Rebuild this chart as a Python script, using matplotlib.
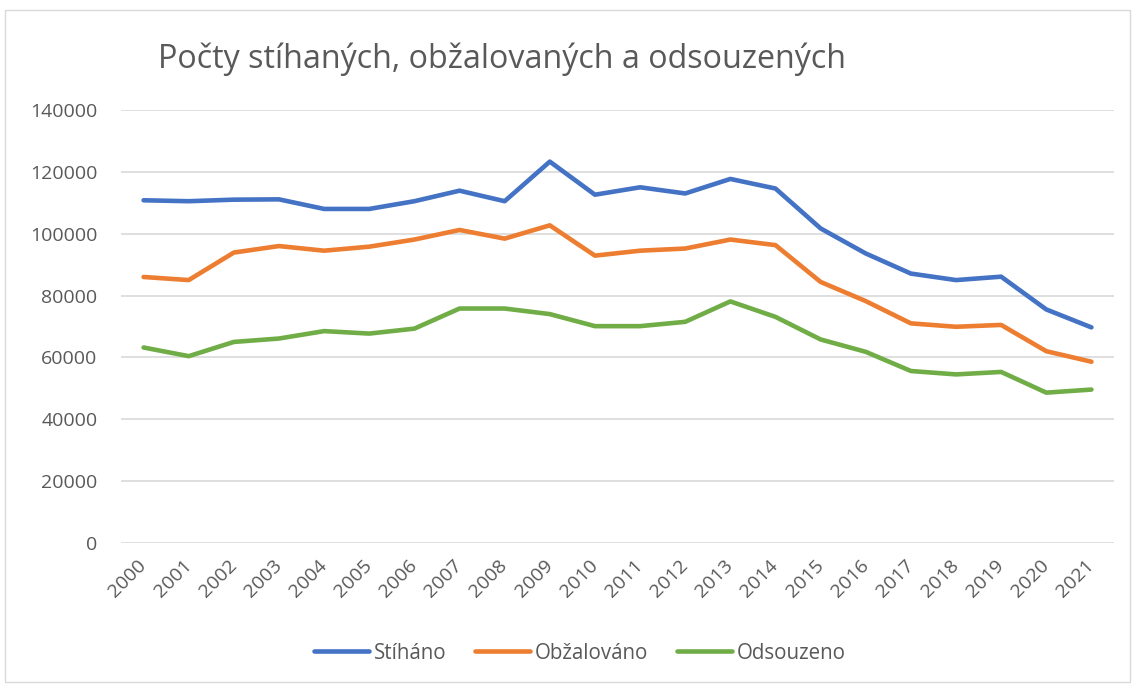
import numpy as np
import matplotlib.pyplot as plt
from matplotlib.patches import Rectangle

years = [str(y) for y in range(2000, 2022)]

stihano = [110800, 110500, 111000, 111100, 108000, 108000, 110500, 113900,
           110500, 123300, 112600, 115000, 113000, 117700, 114600, 101700,
           93600, 87100, 85000, 86100, 75500, 69700]
obzalovano = [86000, 85000, 93900, 96000, 94500, 95800, 98100, 101200,
              98400, 102700, 92900, 94500, 95200, 98100, 96300, 84400,
              78200, 71000, 69900, 70500, 62000, 58600]
odsouzeno = [63200, 60400, 65000, 66100, 68500, 67700, 69300, 75800,
             75800, 74000, 70100, 70100, 71500, 78100, 73100, 65800,
             61800, 55600, 54500, 55300, 48600, 49600]

series = [
    ('Stíháno', stihano, '#4472C4'),
    ('Obžalováno', obzalovano, '#ED7D31'),
    ('Odsouzeno', odsouzeno, '#70AD47'),
]

plt.rcParams['font.family'] = ['Open Sans', 'DejaVu Sans']
textColor = '#595959'

fig = plt.figure(figsize=(11.32, 6.86), dpi=100)
ax = fig.add_axes([0.1069, 0.2085, 0.8772, 0.6312])

# chart border
fig.patches.append(Rectangle((0.004, 0.006), 0.994, 0.979, transform=fig.transFigure,
                             fill=False, edgecolor='#D9D9D9', linewidth=1))

x = np.arange(len(years))
for label, values, color in series:
    ax.plot(x, values, color=color, linewidth=3.3, label=label,
            solid_joinstyle='round', solid_capstyle='round')

ax.set_xlim(-0.5, len(years) - 0.5)
ax.set_ylim(0, 140000)
ax.set_yticks(range(0, 140001, 20000))
ax.set_yticklabels([str(v) for v in range(0, 140001, 20000)])
ax.set_xticks(x)
ax.set_xticklabels(years, rotation=45, ha='right', va='center', rotation_mode='anchor')

ax.grid(axis='y', color='#D9D9D9', linewidth=1.2)
ax.set_axisbelow(True)
for side in ['top', 'right', 'left', 'bottom']:
    ax.spines[side].set_visible(False)
ax.tick_params(axis='both', length=0, colors=textColor, labelsize=14)
ax.tick_params(axis='y', pad=17)
ax.tick_params(axis='x', pad=14)

fig.text(0.14, 0.913, 'Počty stíhaných, obžalovaných a odsouzených',
         fontsize=23.2, color=textColor, ha='left', va='center')

leg = fig.legend(loc='center', bbox_to_anchor=(0.512, 0.048), ncol=3, frameon=False,
                 fontsize=14.8, handlelength=2.7, handletextpad=0.2, columnspacing=1.4)
for t in leg.get_texts():
    t.set_color(textColor)

fig.savefig('out.png', dpi=100)
